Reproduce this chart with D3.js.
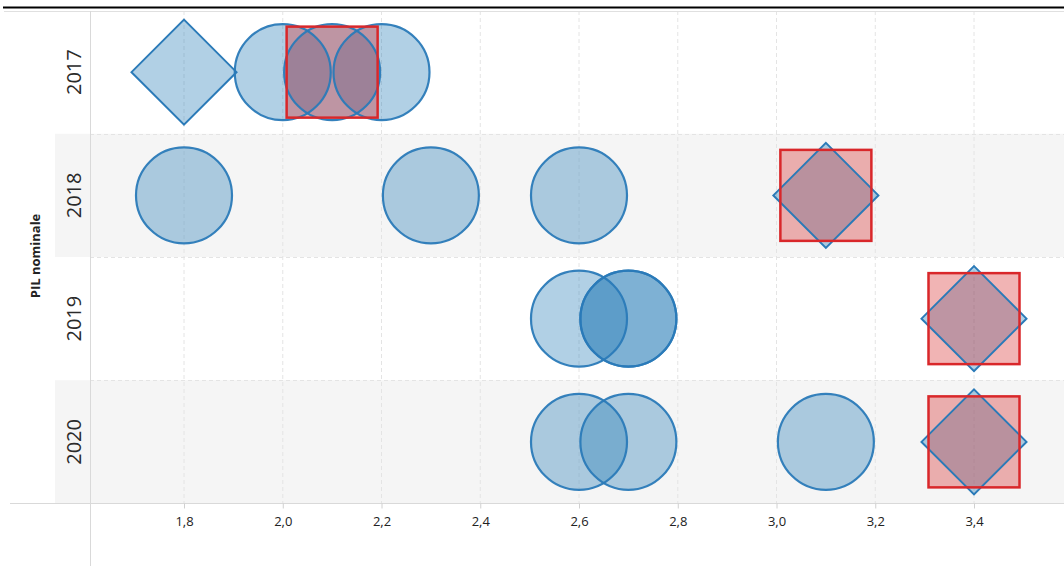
<!DOCTYPE html>
<html><head><meta charset="utf-8">
<script src="https://cdn.jsdelivr.net/npm/d3@7"></script>
<style>body{margin:0;background:#fff}svg{display:block}</style>
</head><body>
<script>
const years = ["2017", "2018", "2019", "2020"];
const circleYears  = ["2017","2017","2017","2018","2018","2018","2019","2019","2019","2020","2020","2020"];
const circleValues = [2.0, 2.1, 2.2, 1.8, 2.3, 2.6, 2.6, 2.7, 2.7, 2.6, 2.7, 3.1];
const squareYears  = ["2017","2018","2019","2020"];
const squareValues = [2.1, 3.1, 3.4, 3.4];
const diamondYears = ["2017","2018","2019","2020"];
const diamondValues = [1.8, 3.1, 3.4, 3.4];
const tickValues = [1.8, 2.0, 2.2, 2.4, 2.6, 2.8, 3.0, 3.2, 3.4];
const axisTitle = "PIL nominale";

const W = 1064, H = 566;
const svg = d3.select("body").append("svg").attr("width", W).attr("height", H);

const x = d3.scaleLinear().domain([1.8, 3.4]).range([184, 974]);
const y = d3.scaleBand().domain(years).range([10.5, 503.5]);
const plotLeft = 90, plotRight = W;

// bands
svg.selectAll("rect.band").data(years.filter((d, i) => i % 2 === 1)).join("rect")
  .attr("x", 55).attr("y", d => y(d)).attr("width", W - 55).attr("height", y.bandwidth())
  .attr("fill", "#f5f5f5");

// vertical gridlines
svg.selectAll("line.vg").data(tickValues).join("line")
  .attr("x1", d => x(d)).attr("x2", d => x(d)).attr("y1", 11).attr("y2", 503)
  .attr("stroke", "#e4e4e4").attr("stroke-width", 1).attr("stroke-dasharray", "4,3");
// horizontal row separators
svg.selectAll("line.hg").data(years.slice(1)).join("line")
  .attr("x1", plotLeft).attr("x2", plotRight).attr("y1", d => Math.round(y(d)) + 0.5).attr("y2", d => Math.round(y(d)) + 0.5)
  .attr("stroke", "#e4e4e4").attr("stroke-width", 1).attr("stroke-dasharray", "4,3");

// top lines
svg.append("line").attr("x1", 3).attr("x2", W).attr("y1", 7.5).attr("y2", 7.5).attr("stroke", "#000").attr("stroke-width", 2);
svg.append("line").attr("x1", 4).attr("x2", W).attr("y1", 11.5).attr("y2", 11.5).attr("stroke", "#e0e0e0").attr("stroke-width", 1);

// axes lines
svg.append("line").attr("x1", 90.5).attr("x2", 90.5).attr("y1", 11).attr("y2", H).attr("stroke", "#d9d9d9");
svg.append("line").attr("x1", 10).attr("x2", W).attr("y1", 503.5).attr("y2", 503.5).attr("stroke", "#d9d9d9");

// x axis
const xAxis = d3.axisBottom(x).tickValues(tickValues).tickSize(5).tickPadding(8)
  .tickFormat(d => d3.format(".1f")(d).replace(".", ","));
const gx = svg.append("g").attr("transform", "translate(0,503.5)").call(xAxis);
gx.select(".domain").remove();
gx.selectAll(".tick line").attr("stroke", "#d0d0d0");
gx.selectAll(".tick text").attr("font-family", "'Open Sans', sans-serif").attr("font-size", 13).attr("fill", "#222");

// y labels
svg.selectAll("text.yl").data(years).join("text")
  .attr("transform", d => `translate(81,${y(d) + y.bandwidth() / 2}) rotate(-90)`)
  .attr("text-anchor", "middle").attr("font-family", "'Open Sans', sans-serif")
  .attr("font-size", 20).attr("fill", "#2a2a2a").text(d => d);

svg.append("text").attr("transform", "translate(40,256) rotate(-90)")
  .attr("text-anchor", "middle").attr("font-family", "'Open Sans', sans-serif")
  .attr("font-size", 13).attr("font-weight", "bold").attr("fill", "#222").text(axisTitle);

const blue = "#2a7ab8", blueFill = "rgba(31,119,180,0.35)";
const red = "#d9272a", redFill = "rgba(214,39,40,0.35)";
const cy = yr => y(yr) + y.bandwidth() / 2;
const dh = 52.5, sh = 45.5;
const diamondPath = (d, i) => {
  const cx = x(d), c = cy(diamondYears[i]);
  return `M${cx},${c - dh}L${cx + dh},${c}L${cx},${c + dh}L${cx - dh},${c}Z`;
};

// fills
svg.selectAll("circle.cf").data(circleValues).join("circle").attr("class", "cf")
  .attr("cx", d => x(d)).attr("cy", (d, i) => cy(circleYears[i])).attr("r", 48)
  .attr("fill", blueFill).attr("stroke", "none");
svg.selectAll("path.df").data(diamondValues).join("path").attr("class", "df")
  .attr("d", diamondPath).attr("fill", blueFill).attr("stroke", "none");
svg.selectAll("rect.sf").data(squareValues).join("rect").attr("class", "sf")
  .attr("x", d => x(d) - sh).attr("y", (d, i) => cy(squareYears[i]) - sh)
  .attr("width", 2 * sh).attr("height", 2 * sh).attr("fill", redFill).attr("stroke", "none");

// outlines
svg.selectAll("circle.co").data(circleValues).join("circle").attr("class", "co")
  .attr("cx", d => x(d)).attr("cy", (d, i) => cy(circleYears[i])).attr("r", 48)
  .attr("fill", "none").attr("stroke", blue).attr("stroke-width", 2.2).attr("stroke-opacity", 0.95);
svg.selectAll("path.do").data(diamondValues).join("path").attr("class", "do")
  .attr("d", diamondPath).attr("fill", "none").attr("stroke", blue).attr("stroke-width", 2);
svg.selectAll("rect.so").data(squareValues).join("rect").attr("class", "so")
  .attr("x", d => x(d) - sh).attr("y", (d, i) => cy(squareYears[i]) - sh)
  .attr("width", 2 * sh).attr("height", 2 * sh).attr("fill", "none").attr("stroke", red).attr("stroke-width", 2.5);
</script>
</body></html>
